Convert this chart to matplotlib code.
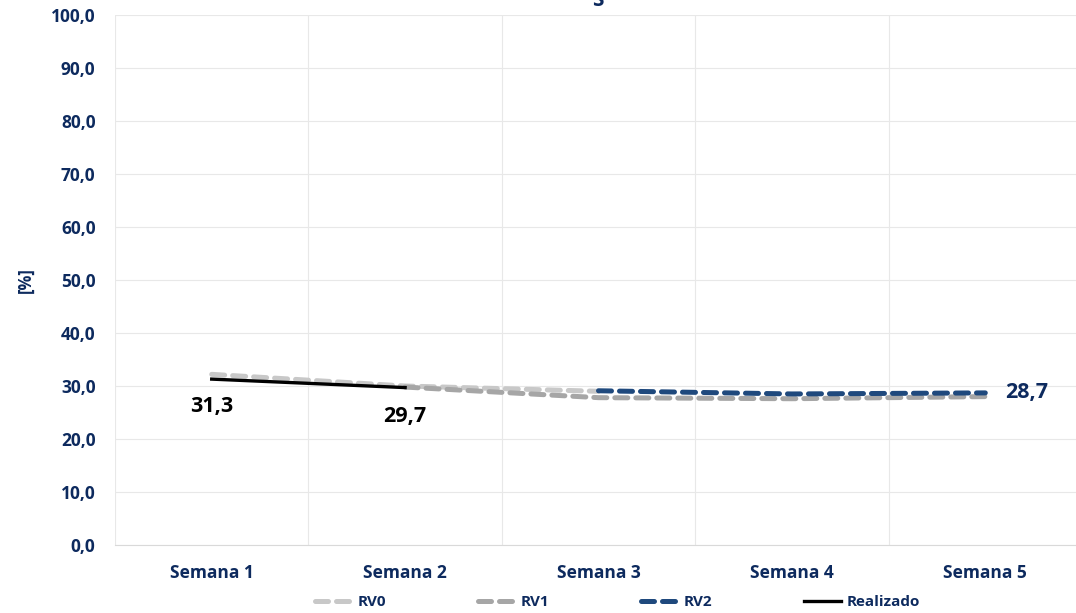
import numpy as np
import matplotlib.pyplot as plt

plt.rcParams['font.family'] = ['Open Sans', 'DejaVu Sans']

weeks = ['Semana 1', 'Semana 2', 'Semana 3', 'Semana 4', 'Semana 5']
rv0 = [32.2, 30.0, 29.0, np.nan, np.nan]
rv1 = [np.nan, 29.8, 27.8, 27.6, 28.0]
rv2 = [np.nan, np.nan, 29.1, 28.5, 28.7]
realizado = [31.3, 29.7, np.nan, np.nan, np.nan]

navy = '#0d2a5e'
x = np.arange(1, len(weeks) + 1)

fig = plt.figure(figsize=(10.76, 6.13), dpi=100)
ax = fig.add_axes([115 / 1076, 68 / 613, 967 / 1076, 530 / 613])

ax.plot(x, rv0, color='#c8c8c8', lw=3.6, dashes=(2.6, 1.6), dash_capstyle='round', label='RV0')
ax.plot(x, rv1, color='#a6a6a6', lw=3.6, dashes=(2.6, 1.6), dash_capstyle='round', label='RV1')
ax.plot(x, rv2, color='#1f497d', lw=3.6, dashes=(2.6, 1.6), dash_capstyle='round', label='RV2')
ax.plot(x, realizado, color='black', lw=2.4, label='Realizado')

# data labels
ax.annotate('31,3', (x[0], realizado[0]), xytext=(0, -20), textcoords='offset points',
            ha='center', va='center', fontsize=15.5, fontweight='bold', color='black')
ax.annotate('29,7', (x[1], realizado[1]), xytext=(0, -21), textcoords='offset points',
            ha='center', va='center', fontsize=15.5, fontweight='bold', color='black')
ax.annotate('28,7', (x[4], rv2[4]), xytext=(30, 0), textcoords='offset points',
            ha='center', va='center', fontsize=15.5, fontweight='bold', color=navy)

ax.set_xlim(0.5, 5.5)
ax.set_ylim(0, 100)
ax.set_yticks(np.arange(0, 101, 10))
ax.set_yticklabels([f'{v:.1f}'.replace('.', ',') for v in np.arange(0, 101, 10)])
ax.set_xticks(x)
ax.set_xticklabels(weeks)
ax.set_xticks(np.arange(0.5, 6, 1), minor=True)

for lbl in ax.get_xticklabels() + ax.get_yticklabels():
    lbl.set_fontweight('bold')
    lbl.set_color(navy)
    lbl.set_fontsize(12.5)

ax.tick_params(axis='both', which='both', length=0)
ax.tick_params(axis='y', pad=14)
ax.tick_params(axis='x', pad=14)
ax.grid(True, axis='y', color='#e8e8e8', lw=0.8)
ax.grid(True, axis='x', which='minor', color='#e8e8e8', lw=0.8)
for s in ['top', 'right', 'left']:
    ax.spines[s].set_visible(False)
ax.spines['bottom'].set_color('#d9d9d9')

ax.set_ylabel('[%]', color=navy, fontweight='bold', fontsize=12, labelpad=12)
fig.text(0.556, 1.0, 'S', ha='center', va='center', color=navy, fontweight='bold', fontsize=15)

leg = fig.legend(loc='lower center', bbox_to_anchor=(0.574, -0.016), ncol=4, frameon=False,
                 fontsize=11, handlelength=2.4, columnspacing=6.0, handletextpad=0.4)
for t in leg.get_texts():
    t.set_fontweight('bold')
    t.set_color(navy)

fig.savefig('out.png', dpi=100)
